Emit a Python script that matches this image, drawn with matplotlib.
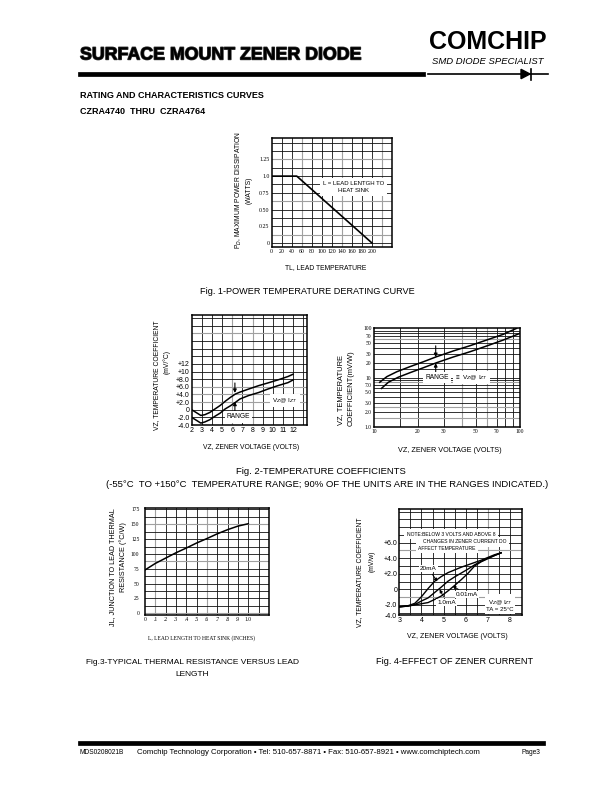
import matplotlib
matplotlib.use("Agg")
import matplotlib.pyplot as plt
import matplotlib.patheffects as pe
import numpy as np

W, H = 612, 792
SANS = ['Liberation Sans', 'DejaVu Sans']
NARROW = ['Liberation Sans Narrow', 'Liberation Sans', 'DejaVu Sans']
SERIF = ['Liberation Serif', 'DejaVu Serif']

# fig 1 - power derating
f1_temp = [0, 50, 200]
f1_power = [1.0, 1.0, 0.0]
f1_xticks = [0, 20, 40, 60, 80, 100, 120, 140, 160, 180, 200]
f1_yticks = [0, 0.25, 0.5, 0.75, 1.0, 1.25]
f1_ylabels = ['0', '0.25', '0.50', '0.75', '1.0', '1.25']

# fig 2 left - temp coefficient, linear
f2a_vz_hi = [2, 2.9, 3.3, 3.8, 4.3, 4.8, 5.3, 5.8, 6.3, 6.75, 7.6, 8.6, 9.5, 10.5, 11.5, 12]
f2a_tc_hi = [0, -1.5, -1.3, -0.7, 0.2, 1.1, 2.2, 3.2, 4.1, 4.6, 5.4, 6.3, 7.0, 7.8, 8.7, 9.3]
f2a_vz_lo = [2, 2.9, 3.3, 3.8, 4.3, 4.8, 5.3, 5.8, 6.3, 6.75, 7.6, 8.6, 9.5, 10.5, 11.5, 12]
f2a_tc_lo = [-2, -3.5, -3.2, -2.6, -1.7, -0.9, 0.2, 1.0, 1.9, 2.8, 3.7, 4.5, 5.4, 6.3, 7.1, 7.8]
f2a_xticks = [2, 3, 4, 5, 6, 7, 8, 9, 10, 11, 12]
f2a_yticks = [-4, -2, 0, 2, 4, 6, 8, 10, 12]
f2a_ylabels = ['-4.0', '-2.0', '0', '+2.0', '+4.0', '+6.0', '+8.0', '+10', '+12']

# fig 2 right - temp coefficient, log-log
f2b_vz_hi = [10.9, 12.2, 14.3, 17.6, 21.8, 26.9, 35.0, 45.7, 59.5, 77.5, 95.8]
f2b_tc_hi = [8.0, 10.4, 13.1, 16.6, 20.9, 26.5, 34.6, 44.3, 57.8, 75.5, 100]
f2b_vz_lo = [11.2, 12.5, 14.6, 17.6, 21.8, 26.9, 35.0, 45.7, 59.5, 77.5, 101]
f2b_tc_lo = [6.0, 8.0, 10.1, 12.5, 15.8, 20.0, 26.1, 33.4, 43.7, 57.8, 79]
f2b_xticks = [10, 20, 30, 50, 70, 100]
f2b_yticks = [1, 2, 3, 5, 7, 10, 20, 30, 50, 70, 100]
f2b_ylabels = ['1.0', '2.0', '3.0', '5.0', '7.0', '10', '20', '30', '50', '70', '100']

# fig 3 - thermal resistance vs lead length
f3_len = [0, 0.1, 0.2, 0.3, 0.4, 0.5, 0.6, 0.7, 0.8, 0.9, 1.0]
f3_rth = [73, 84, 93, 102, 110, 118.5, 126, 134, 141, 147, 151]
f3_xticks = [0, 0.1, 0.2, 0.3, 0.4, 0.5, 0.6, 0.7, 0.8, 0.9, 1.0]
f3_xlabels = ['0', '.1', '.2', '.3', '.4', '.5', '.6', '.7', '.8', '.9', '1.0']
f3_yticks = [0, 25, 50, 75, 100, 125, 150, 175]

# fig 4 - effect of zener current
f4_vz = [3.0, 3.4, 3.7, 4.0, 4.3, 4.6, 4.9, 5.2, 5.5, 5.8, 6.1, 6.4, 6.7, 7.0, 7.3, 7.6]
f4_20ma = [-2.25, -2.1, -1.8, -0.95, 0.1, 1.05, 1.65, 2.15, 2.5, 2.85, 3.15, 3.45, 3.75, 4.1, 4.45, 4.7]
f4_1ma = [-2.25, -2.15, -1.95, -1.5, -1.1, -0.4, 0.3, 1.05, 1.6, 2.1, 2.6, 3.15, 3.6, 4.0, 4.35, 4.7]
f4_001ma = [-2.25, -2.15, -2.0, -1.85, -1.7, -1.3, -0.85, -0.2, 0.5, 1.25, 2.05, 3.0, 3.55, 3.95, 4.35, 4.7]
f4_xticks = [3, 4, 5, 6, 7, 8]
f4_yticks = [-3.3, -2, 0, 2, 4, 6]
f4_ylabels = ['-4.0', '-2.0', '0', '+2.0', '+4.0', '+6.0']

fig = plt.figure(figsize=(6.12, 7.92), dpi=100)
fig.patch.set_facecolor('white')


def box(x0, y0, x1, y1):
    ax = fig.add_axes([x0 / W, 1 - y1 / H, (x1 - x0) / W, (y1 - y0) / H])
    for s in ax.spines.values():
        s.set_linewidth(1.1)
    ax.tick_params(length=0, pad=1.5)
    return ax


def ftext(x, y, s, **kw):
    kw.setdefault('ha', 'center')
    kw.setdefault('va', 'center')
    fig.text(x / W, 1 - y / H, s, **kw)


def grid(ax, xs, ys, gx=(), gy=()):
    for v in xs:
        c = '#a0a0a0' if np.any(np.isclose(v, gx)) else '#111111'
        ax.axvline(v, color=c, lw=0.8 if c != '#111111' else 0.6, zorder=1)
    for v in ys:
        c = '#a0a0a0' if np.any(np.isclose(v, gy)) else '#111111'
        ax.axhline(v, color=c, lw=0.8 if c != '#111111' else 0.6, zorder=1)


def ticklabels(ax, family, size):
    for t in ax.get_xticklabels() + ax.get_yticklabels():
        t.set_family(family)
        t.set_fontsize(size)


arrow = dict(arrowstyle='-|>', color='black', lw=0.8, mutation_scale=5, shrinkA=0, shrinkB=0)

# ---------------- header ----------------
ftext(80, 55, 'SURFACE MOUNT ZENER DIODE', ha='left', family=SANS, fontsize=12.8,
      fontweight='bold', color='black',
      path_effects=[pe.withStroke(linewidth=1.0, foreground='#333333')])
ftext(488, 42, 'COMCHIP', family=SANS, fontsize=18, fontweight='bold')
ftext(488, 62, 'SMD DIODE SPECIALIST', family=SANS, fontsize=6.8, style='italic')
hy = 74
fig.add_artist(plt.Line2D([80 / W, 423 / W], [1 - hy / H] * 2, color='black', lw=3.4))
fig.add_artist(plt.Line2D([428 / W, 548 / W], [1 - hy / H] * 2, color='black', lw=1.2))
fig.add_artist(plt.Polygon([[521 / W, 1 - (hy - 4.7) / H], [521 / W, 1 - (hy + 4.7) / H], [530 / W, 1 - hy / H]],
                           closed=True, color='black'))
fig.add_artist(plt.Line2D([530.5 / W, 530.5 / W], [1 - (hy - 5.5) / H, 1 - (hy + 5.5) / H], color='black', lw=1.2))

ftext(80, 95, 'RATING AND CHARACTERISTICS CURVES', ha='left', family=SANS, fontsize=6.5, fontweight='bold')
ftext(80, 111, 'CZRA4740  THRU  CZRA4764', ha='left', family=SANS, fontsize=6.5, fontweight='bold')

# ---------------- fig 1 ----------------
ax1 = box(271.7, 138, 392, 247)
ax1.set_xlim(0, 240)
ax1.set_ylim(-0.06, 1.57)
grid(ax1, np.arange(20, 240, 20), np.arange(0, 1.57, 0.125),
     gx=[60, 140, 220], gy=[0.125, 0.625, 1.25])
ax1.plot(f1_temp, f1_power, color='black', lw=1.2, zorder=5)
ax1.set_xticks(f1_xticks)
ax1.set_xticklabels([str(v) for v in f1_xticks])
ax1.set_yticks(f1_yticks)
ax1.set_yticklabels(f1_ylabels)
ticklabels(ax1, SERIF, 4.2)
ax1.text(163, 0.836, 'L = LEAD LENTGH TO\nHEAT SINK', ha='center', va='center', family=NARROW,
         fontsize=4.3, linespacing=1.4, zorder=4,
         bbox=dict(facecolor='white', edgecolor='none', pad=2))
ftext(243.5, 190, 'P$_D$, MAXIMUM POWER DISSIPATION\n(WATTS)', rotation=90, family=NARROW,
      fontsize=4.9, linespacing=1.3)
ftext(326, 268, 'TL, LEAD TEMPERATURE', family=NARROW, fontsize=4.9)
ftext(307, 291, 'Fig. 1-POWER TEMPERATURE DERATING CURVE', family=SANS, fontsize=6.6)

# ---------------- fig 2 left ----------------
ax2 = box(191.7, 315, 307.3, 425)
ax2.set_xlim(2, 13.4)
ax2.set_ylim(-4, 24.8)
grid(ax2, np.arange(3, 14, 1), np.arange(-2, 25, 2), gx=[6, 8], gy=[2, 4, 6, 20])
ax2.plot(f2a_vz_hi, f2a_tc_hi, color='black', lw=1.1, zorder=3)
ax2.plot(f2a_vz_lo, f2a_tc_lo, color='black', lw=1.1, zorder=3)
ax2.set_xticks(f2a_xticks)
ax2.set_xticklabels([str(v) for v in f2a_xticks])
ax2.set_yticks(f2a_yticks)
ax2.set_yticklabels(f2a_ylabels)
ticklabels(ax2, NARROW, 5.0)
ax2.annotate('', xy=(6.26, 4.4), xytext=(6.26, 7.0), zorder=4, arrowprops=arrow)
ax2.annotate('', xy=(6.26, 2.1), xytext=(6.26, -0.5), zorder=4, arrowprops=arrow)
ax2.text(6.6, -1.9, 'RANGE', ha='center', va='center', family=NARROW, fontsize=4.8, zorder=4,
         bbox=dict(facecolor='white', edgecolor='none', pad=1.5))
ax2.text(11.2, 2.4, 'V$_Z$@ I$_{ZT}$', ha='center', va='center', family=NARROW, fontsize=4.5, zorder=4,
         bbox=dict(facecolor='white', edgecolor='none', pad=1.5))
ftext(157, 375, 'VZ, TEMPERATURE COEFFICIENT', rotation=90, family=NARROW, fontsize=4.9)
ftext(167, 362, '(mV/\u00b0C)', rotation=90, family=NARROW, fontsize=4.9)
ftext(251, 447, 'VZ, ZENER VOLTAGE (VOLTS)', family=NARROW, fontsize=4.9)

# ---------------- fig 2 right ----------------
ax3 = box(374.3, 328.3, 520, 426.7)
ax3.set_xscale('log')
ax3.set_yscale('log')
ax3.set_xlim(10, 101)
ax3.set_ylim(1, 100)
ax3.minorticks_off()
grid(ax3, [15, 20, 30, 40, 50, 60, 70, 80, 90],
     [1.5, 2, 2.5, 3, 4, 5, 6, 7, 8, 9, 10, 15, 20, 30, 40, 50, 60, 70, 80, 90],
     gx=[40, 60], gy=[1.5, 2.5, 8, 60])
ax3.plot(f2b_vz_hi, f2b_tc_hi, color='black', lw=1.1, zorder=3)
ax3.plot(f2b_vz_lo, f2b_tc_lo, color='black', lw=1.1, zorder=3)
ax3.set_xticks(f2b_xticks)
ax3.set_xticklabels([str(v) for v in f2b_xticks])
ax3.set_yticks(f2b_yticks)
ax3.set_yticklabels(f2b_ylabels)
ax3.tick_params(length=0, pad=2, which='both')
ticklabels(ax3, SERIF, 4)
ax3.annotate('', xy=(26.5, 26), xytext=(26.5, 44), zorder=4, arrowprops=arrow)
ax3.annotate('', xy=(26.5, 19.6), xytext=(26.5, 11.2), zorder=4, arrowprops=arrow)
ax3.text(27, 9.8, 'RANGE', ha='center', va='center', family=NARROW, fontsize=4.8, zorder=4,
         bbox=dict(facecolor='white', edgecolor='none', pad=1.5))
ax3.text(47, 9.8, '\u2261  V$_Z$@ I$_{ZT}$', ha='center', va='center', family=NARROW, fontsize=4.6, zorder=4,
         bbox=dict(facecolor='white', edgecolor='none', pad=1.5))
ftext(341, 390, 'VZ, TEMPERATURE', rotation=90, family=NARROW, fontsize=5.4)
ftext(351, 388, 'COEFFICIENT(mV/W)', rotation=90, family=NARROW, fontsize=5.4)
ftext(450, 451, 'VZ, ZENER VOLTAGE (VOLTS)', family=NARROW, fontsize=5.2)

ftext(321, 472, 'Fig. 2-TEMPERATURE COEFFICIENTS', family=SANS, fontsize=6.8)
ftext(327, 484, '(-55\u00b0C  TO +150\u00b0C  TEMPERATURE RANGE; 90% OF THE UNITS ARE IN THE RANGES INDICATED.)',
      family=SANS, fontsize=6.8)

# ---------------- fig 3 ----------------
ax4 = box(145, 508.3, 269, 615)
ax4.set_xlim(0, 1.2)
ax4.set_ylim(-3, 177)
grid(ax4, np.arange(0.1, 1.2, 0.1), np.arange(0, 176, 12.5),
     gx=[0.1, 0.6], gy=[0, 87.5, 150])
ax4.plot(f3_len, f3_rth, color='black', lw=1.1, zorder=3)
ax4.set_xticks(f3_xticks)
ax4.set_xticklabels(f3_xlabels)
ax4.set_yticks(f3_yticks)
ax4.set_yticklabels([str(v) for v in f3_yticks])
ax4.tick_params(axis='y', pad=4)
ticklabels(ax4, SERIF, 4)
ftext(113, 567, 'JL, JUNCTION TO LEAD THERMAL', rotation=90, family=NARROW, fontsize=5.2)
ftext(123, 557, 'RESISTANCE (\u00b0C/W)', rotation=90, family=NARROW, fontsize=5.2)
ftext(201, 638, 'L, LEAD LENGTH TO HEAT SINK (INCHES)', family=SERIF, fontsize=4.0)
ftext(192, 662, 'Fig.3-TYPICAL THERMAL RESISTANCE VERSUS LEAD', family=SANS, fontsize=6.0)
ftext(192, 675, 'LENGTH', family=SANS, fontsize=6.0)

# ---------------- fig 4 ----------------
ax5 = box(399.3, 509.3, 521.7, 615)
ax5.set_xlim(3, 8.53)
ax5.set_ylim(-3.3, 10.3)
grid(ax5, np.arange(3.5, 8.5, 0.5), np.arange(-3, 10.5, 1), gx=[7.0], gy=[-1, 5])
ax5.plot(f4_vz, f4_20ma, color='black', lw=1.0, zorder=3)
ax5.plot(f4_vz, f4_1ma, color='black', lw=1.0, zorder=3)
ax5.plot(f4_vz, f4_001ma, color='black', lw=1.0, zorder=3)
ax5.set_xticks(f4_xticks)
ax5.set_xticklabels([str(v) for v in f4_xticks])
ax5.set_yticks(f4_yticks)
ax5.set_yticklabels(f4_ylabels)
ticklabels(ax5, NARROW, 5.0)
note_kw = dict(ha='left', va='center', family=NARROW, fontsize=3.6, zorder=4,
               bbox=dict(facecolor='white', edgecolor='none', pad=1.8))
ax5.text(3.33, 7.1, 'NOTE:BELOW 3 VOLTS AND ABOVE 8', **note_kw)
ax5.text(4.07, 6.15, 'CHANGES IN ZENER CURRENT DO', **note_kw)
ax5.text(3.85, 5.3, 'AFFECT TEMPERATURE', **note_kw)
lab_kw = dict(ha='center', va='center', family=NARROW, fontsize=4.6, zorder=4,
              bbox=dict(facecolor='white', edgecolor='none', pad=0.8))
arr4 = dict(arrowstyle='-|>', color='black', lw=0.7, mutation_scale=4.5, shrinkB=0)
ax5.annotate('20mA', xy=(4.72, 1.0), xytext=(4.31, 2.7), arrowprops=arr4, **lab_kw)
ax5.annotate('1.0mA', xy=(4.82, 0.0), xytext=(5.14, -1.7), arrowprops=arr4, **lab_kw)
ax5.annotate('0.01mA', xy=(5.4, 0.45), xytext=(6.05, -0.65), arrowprops=arr4, **lab_kw)
ax5.text(7.55, -2.0, 'V$_Z$@ I$_{ZT}$\nTA = 25\u00b0C', ha='center', va='center', family=NARROW,
         fontsize=4.4, linespacing=1.1, zorder=4,
         bbox=dict(facecolor='white', edgecolor='none', pad=1.2))
ftext(360, 572, 'VZ, TEMPERATURE COEFFICIENT', rotation=90, family=NARROW, fontsize=4.9)
ftext(372, 561, '(mV/w)', rotation=90, family=NARROW, fontsize=4.9)
ftext(457, 637, 'VZ, ZENER VOLTAGE (VOLTS)', family=NARROW, fontsize=5.0)
ftext(455, 662, 'Fig. 4-EFFECT OF ZENER CURRENT', family=SANS, fontsize=6.6)

# ---------------- footer ----------------
fig.add_artist(plt.Line2D([80 / W, 543 / W], [1 - 742.7 / H] * 2, color='black', lw=3.4))
ftext(80, 753, 'MDS0208021B', ha='left', family=SANS, fontsize=4.8)
ftext(137, 753, 'Comchip Technology Corporation \u2022 Tel: 510-657-8871 \u2022 Fax: 510-657-8921 \u2022 www.comchiptech.com',
      ha='left', family=SANS, fontsize=5.6)
ftext(540, 753, 'Page3', ha='right', family=SANS, fontsize=4.8)

fig.savefig('out.png', dpi=100, facecolor='white')
